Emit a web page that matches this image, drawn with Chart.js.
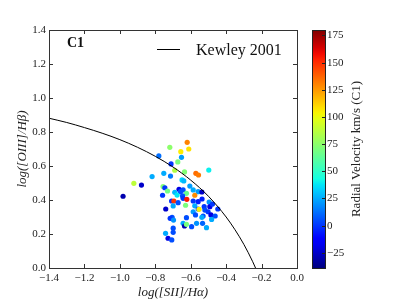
<!DOCTYPE html>
<html>
<head>
<meta charset="utf-8">
<script src="https://cdn.jsdelivr.net/npm/chart.js@4.4.0/dist/chart.umd.min.js"></script>
<style>
  body { margin: 0; background: #fff; }
  #wrap { width: 399px; height: 299px; }
</style>
</head>
<body>
<div id="wrap"><canvas id="c" width="399" height="299"></canvas></div>
<script>
// log([SII]/Ha), log([OIII]/Hb) and radial velocity of each C1 point
var sii = [-0.620,-0.718,-0.611,-0.656,-0.780,-0.652,-0.673,-0.711,-0.690,-0.635,-0.571,-0.556,-0.498,-0.752,-0.714,-0.818,-0.649,-0.639,-0.878,-0.921,-0.982,-0.756,-0.746,-0.731,-0.666,-0.643,-0.605,-0.586,-0.558,-0.537,-0.690,-0.658,-0.624,-0.677,-0.646,-0.577,-0.759,-0.708,-0.695,-0.671,-0.643,-0.622,-0.586,-0.558,-0.536,-0.496,-0.741,-0.699,-0.629,-0.577,-0.558,-0.524,-0.492,-0.477,-0.553,-0.520,-0.502,-0.447,-0.586,-0.573,-0.530,-0.486,-0.462,-0.624,-0.705,-0.716,-0.697,-0.537,-0.482,-0.643,-0.635,-0.624,-0.595,-0.567,-0.533,-0.511,-0.699,-0.699,-0.742,-0.728,-0.707];
var oiii = [0.739,0.710,0.700,0.684,0.659,0.651,0.624,0.612,0.575,0.565,0.557,0.547,0.576,0.557,0.541,0.538,0.518,0.512,0.488,0.498,0.422,0.479,0.472,0.453,0.463,0.459,0.482,0.459,0.449,0.447,0.445,0.449,0.439,0.429,0.424,0.428,0.428,0.394,0.394,0.384,0.410,0.404,0.394,0.390,0.406,0.388,0.347,0.365,0.369,0.366,0.347,0.361,0.361,0.376,0.345,0.341,0.331,0.347,0.331,0.312,0.306,0.312,0.306,0.296,0.298,0.292,0.282,0.298,0.286,0.263,0.247,0.257,0.243,0.263,0.263,0.237,0.234,0.210,0.204,0.175,0.165];
var vel = [130,75,108,105,12,22,70,0,85,72,135,132,40,25,15,25,35,28,-25,88,-30,72,0,68,-20,5,22,25,22,-25,28,5,65,38,5,128,0,0,148,5,0,155,0,-5,-5,20,-25,25,70,25,5,0,-20,0,105,5,0,0,22,5,5,-20,5,5,5,0,20,25,25,25,-30,70,5,20,10,25,5,5,25,-20,5];

// Kewley 2001 line
var kew_x = [-1.4,-1.3,-1.2,-1.1,-1.0,-0.9,-0.8,-0.7,-0.6,-0.5,-0.4,-0.35,-0.3,-0.25,-0.234];
var kew_y = [0.881,0.856,0.826,0.793,0.755,0.710,0.657,0.594,0.517,0.422,0.300,0.225,0.139,0.037,0.0];

var x_ticks = [-1.4,-1.2,-1.0,-0.8,-0.6,-0.4,-0.2,0.0];
var y_ticks = [0.0,0.2,0.4,0.6,0.8,1.0,1.2,1.4];
var cb_ticks = [-25,0,25,50,75,100,125,150,175];
var cb_min = -39;
var cb_max = 180;

var panel_label = 'C1';
var line_label = 'Kewley 2001';
var cb_label = 'Radial Velocity km/s (C1)';
var x_title = 'log([SII]/H\u03b1)';
var y_title = 'log([OIII]/H\u03b2)';

var font_family = "'Liberation Serif', serif";

// matplotlib jet
var jet_r = [[0,0],[0.35,0],[0.66,1],[0.89,1],[1,0.5]];
var jet_g = [[0,0],[0.125,0],[0.375,1],[0.64,1],[0.91,0],[1,0]];
var jet_b = [[0,0.5],[0.11,1],[0.34,1],[0.65,0],[1,0]];

function interp(pts, t) {
  for (var i = 1; i < pts.length; i++) {
    if (t <= pts[i][0]) {
      var f = (t - pts[i-1][0]) / (pts[i][0] - pts[i-1][0]);
      return pts[i-1][1] + f * (pts[i][1] - pts[i-1][1]);
    }
  }
  return pts[pts.length-1][1];
}

function jet(v) {
  var t = (v - cb_min) / (cb_max - cb_min);
  t = Math.max(0, Math.min(1, t));
  return 'rgb(' + Math.round(interp(jet_r, t)*255) + ',' + Math.round(interp(jet_g, t)*255) + ',' + Math.round(interp(jet_b, t)*255) + ')';
}

function fmt(v) {
  return Number(v).toFixed(1).replace('-', '\u2212');
}

var pts = sii.map(function(x, i) { return {x: x, y: oiii[i]}; });
var kew = kew_x.map(function(x, i) { return {x: x, y: kew_y[i]}; });

var frame_plugin = {
  id: 'frame',
  afterDatasetsDraw: function(chart) {
    var ctx = chart.ctx, a = chart.chartArea;
    var xs = chart.scales.x, ys = chart.scales.y;
    ctx.save();
    ctx.strokeStyle = '#333';
    ctx.lineWidth = 1;
    ctx.beginPath();
    xs.ticks.forEach(function(t) {
      var px = Math.round(xs.getPixelForValue(t.value)) + 0.5;
      ctx.moveTo(px, a.bottom); ctx.lineTo(px, a.bottom - 4);
      ctx.moveTo(px, a.top); ctx.lineTo(px, a.top + 4);
    });
    ys.ticks.forEach(function(t) {
      var py = Math.round(ys.getPixelForValue(t.value)) + 0.5;
      ctx.moveTo(a.left, py); ctx.lineTo(a.left + 4, py);
      ctx.moveTo(a.right, py); ctx.lineTo(a.right - 4, py);
    });
    ctx.stroke();
    ctx.strokeRect(a.left + 0.5, a.top + 0.5, a.right - a.left, a.bottom - a.top);
    ctx.restore();
  },
  afterDraw: function(chart) {
    var ctx = chart.ctx, a = chart.chartArea;
    ctx.save();
    // panel label
    ctx.fillStyle = '#111';
    ctx.font = 'bold 14px ' + font_family;
    ctx.textBaseline = 'alphabetic';
    ctx.fillText(panel_label, a.left + 18, a.top + 17);
    // legend
    var ds = chart.data.datasets[0];
    ctx.strokeStyle = ds.borderColor;
    ctx.lineWidth = 1;
    ctx.beginPath();
    ctx.moveTo(a.left + 108, a.top + 19.5);
    ctx.lineTo(a.left + 131, a.top + 19.5);
    ctx.stroke();
    ctx.font = '16px ' + font_family;
    ctx.fillText(ds.label, a.left + 147, a.top + 25);

    // colorbar
    var bl = a.right + 15, bw = 13, bt = a.top, bb = a.bottom;
    var g = ctx.createLinearGradient(0, bb, 0, bt);
    for (var i = 0; i <= 40; i++) {
      g.addColorStop(i / 40, jet(cb_min + (cb_max - cb_min) * i / 40));
    }
    ctx.fillStyle = g;
    ctx.fillRect(bl, bt, bw, bb - bt);
    ctx.strokeStyle = '#222';
    ctx.strokeRect(bl + 0.5, bt + 0.5, bw, bb - bt);
    ctx.fillStyle = '#222';
    ctx.font = '11px ' + font_family;
    ctx.textBaseline = 'middle';
    ctx.textAlign = 'left';
    ctx.beginPath();
    cb_ticks.forEach(function(v) {
      var py = Math.round(bb - (v - cb_min) / (cb_max - cb_min) * (bb - bt)) + 0.5;
      ctx.moveTo(bl + bw, py); ctx.lineTo(bl + bw - 3, py);
      ctx.fillText(String(v).replace('-', '\u2212'), bl + bw + 2, py);
    });
    ctx.stroke();
    ctx.translate(bl + bw + 32, (bt + bb) / 2);
    ctx.rotate(-Math.PI / 2);
    ctx.textAlign = 'center';
    ctx.font = '13px ' + font_family;
    ctx.fillText(cb_label, 0, 0);
    ctx.restore();
  }
};

Chart.defaults.font.family = font_family;
Chart.defaults.color = '#222';

var ctx = document.getElementById('c').getContext('2d');
window.myChart = new Chart(ctx, {
  type: 'scatter',
  data: {
    datasets: [
      {
        type: 'line',
        label: line_label,
        data: kew,
        borderColor: '#000',
        borderWidth: 1,
        pointRadius: 0,
        fill: false,
        cubicInterpolationMode: 'monotone',
        order: 0
      },
      {
        label: 'C1',
        data: pts,
        backgroundColor: vel.map(jet),
        borderWidth: 0,
        pointRadius: 2.6,
        order: 1
      }
    ]
  },
  options: {
    responsive: false,
    animation: false,
    layout: {
      padding: {left: 0, right: 102, top: 30, bottom: 0}
    },
    scales: {
      x: {
        type: 'linear',
        min: -1.4,
        max: 0,
        afterBuildTicks: function(s) { s.ticks = x_ticks.map(function(v) { return {value: v}; }); },
        afterFit: function(s) { s.height = 31; s.paddingLeft = 0; s.paddingRight = 0; },
        grid: {display: false, drawTicks: false},
        border: {display: false},
        ticks: {
          padding: 4,
          maxRotation: 0,
          font: {size: 11},
          callback: function(v) { return fmt(v); }
        },
        title: {
          display: true,
          text: x_title,
          font: {size: 13, style: 'italic', lineHeight: 1},
          padding: {top: 0, bottom: 0}
        }
      },
      y: {
        type: 'linear',
        min: 0,
        max: 1.4,
        afterBuildTicks: function(s) { s.ticks = y_ticks.map(function(v) { return {value: v}; }); },
        afterFit: function(s) { s.width = 49; s.paddingTop = 0; s.paddingBottom = 0; },
        grid: {display: false, drawTicks: false},
        border: {display: false},
        ticks: {
          padding: 3,
          font: {size: 11},
          callback: function(v) { return fmt(v); }
        },
        title: {
          display: true,
          text: y_title,
          font: {size: 13, style: 'italic', lineHeight: 1},
          padding: {top: 16, bottom: 0}
        }
      }
    },
    plugins: {
      legend: {display: false},
      tooltip: {enabled: false}
    }
  },
  plugins: [frame_plugin]
});
</script>
</body>
</html>
